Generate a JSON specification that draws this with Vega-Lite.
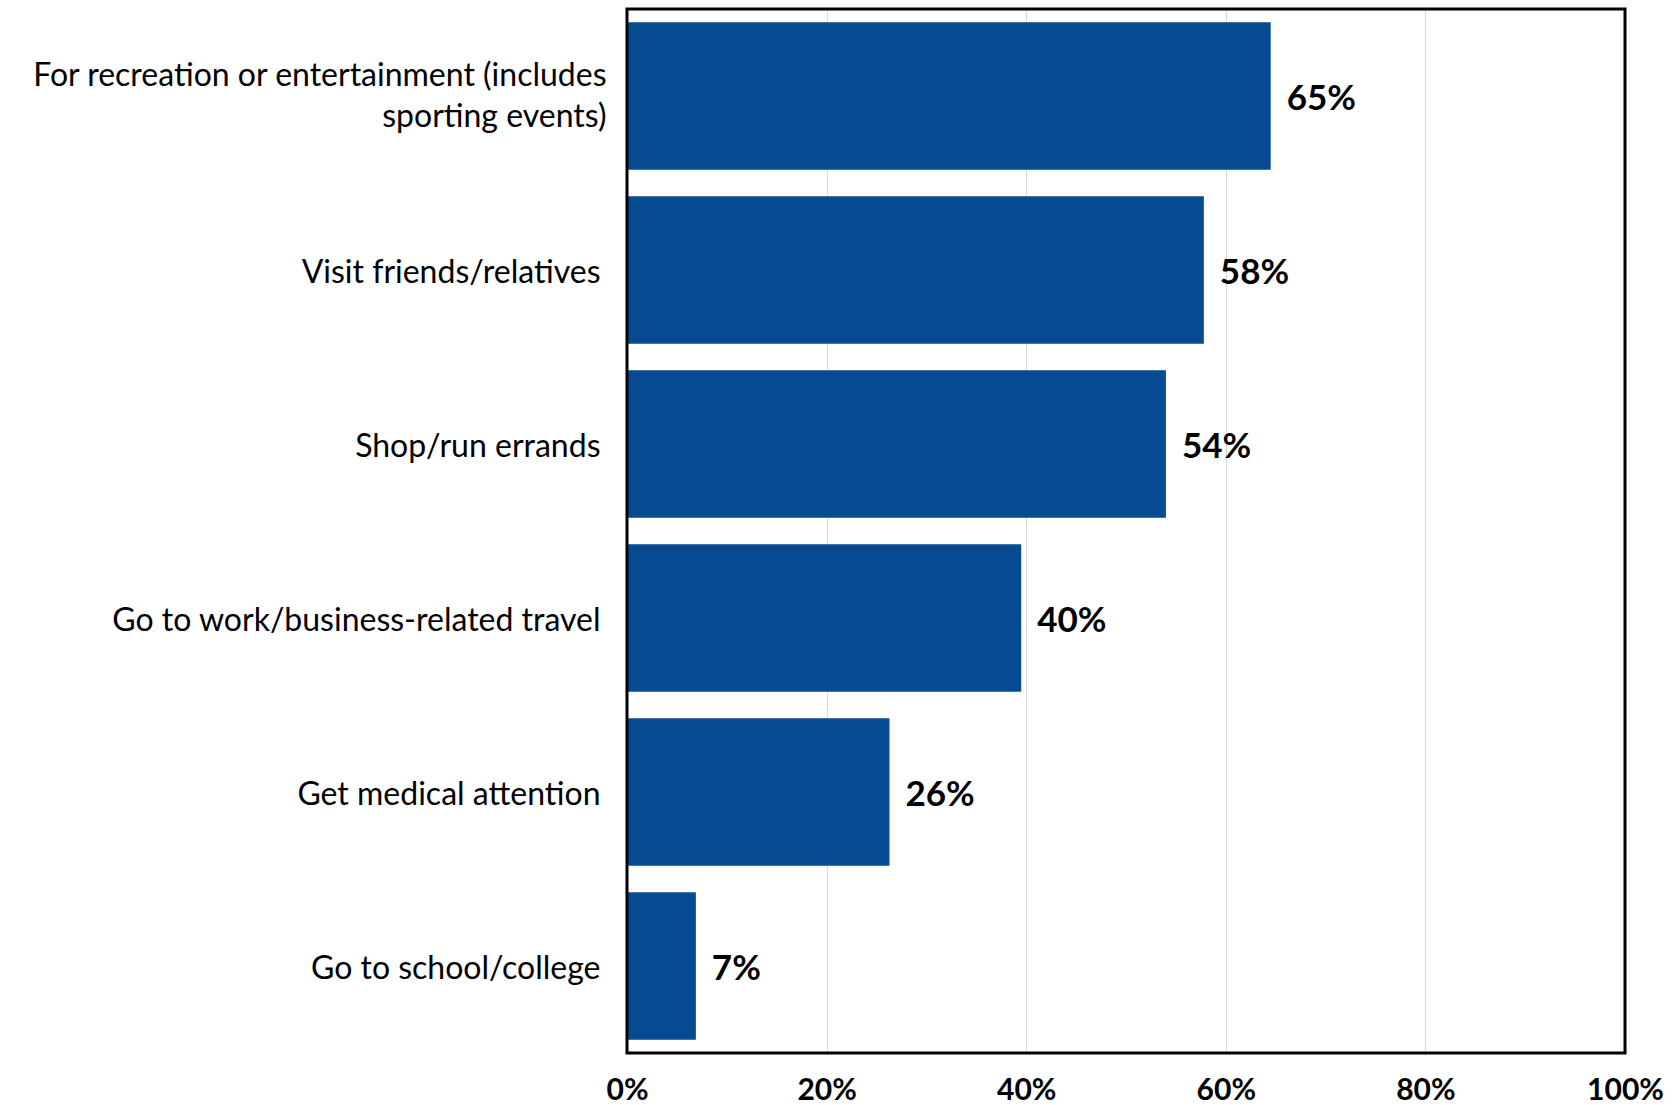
{
  "$schema": "https://vega.github.io/schema/vega-lite/v6.json",
  "width": 998,
  "height": 1044,
  "autosize": {"type": "none"},
  "padding": {"left": 627, "top": 9, "right": 51, "bottom": 52},
  "background": "white",
  "config": {
    "view": {"stroke": null},
    "font": "Lato"
  },
  "datasets": {
    "bars": [
      {"category": "For recreation or entertainment (includes|sporting events)", "value": 64.5, "label": "65%"},
      {"category": "Visit friends/relatives", "value": 57.8, "label": "58%"},
      {"category": "Shop/run errands", "value": 54.0, "label": "54%"},
      {"category": "Go to work/business-related travel", "value": 39.5, "label": "40%"},
      {"category": "Get medical attention", "value": 26.3, "label": "26%"},
      {"category": "Go to school/college", "value": 6.9, "label": "7%"}
    ]
  },
  "data": {"name": "bars"},
  "layer": [
    {
      "mark": {"type": "bar", "color": "#064A91"},
      "encoding": {
        "y": {
          "field": "category",
          "type": "nominal",
          "sort": null,
          "scale": {"paddingInner": 0.153, "paddingOuter": 0.0765},
          "axis": {
            "title": null,
            "domain": false,
            "ticks": false,
            "grid": false,
            "labelFontSize": 32,
            "labelColor": "black",
            "labelPadding": {"condition": {"test": "indexof(datum.value, '|') >= 0", "value": 21}, "value": 27},
            "labelOffset": {"condition": {"test": "indexof(datum.value, '|') >= 0", "value": -20}, "value": 3},
            "labelLimit": 0,
            "labelLineHeight": 41,
            "labelExpr": "split(datum.label, '|')"
          }
        },
        "x": {
          "field": "value",
          "type": "quantitative",
          "scale": {"domain": [0, 100], "nice": false},
          "axis": {
            "title": null,
            "domain": false,
            "ticks": false,
            "values": [0, 20, 40, 60, 80, 100],
            "labelExpr": "datum.value + '%'",
            "labelFontSize": 30,
            "labelFontWeight": "bold",
            "labelColor": "black",
            "labelPadding": 22,
            "labelFlush": false,
            "gridColor": "#D9D9D9",
            "gridWidth": 1
          }
        }
      }
    },
    {
      "mark": {"type": "text", "align": "left", "baseline": "middle", "dx": 16, "dy": 3, "fontSize": 35, "fontWeight": "bold", "color": "black"},
      "encoding": {
        "y": {"field": "category", "type": "nominal", "sort": null},
        "x": {"field": "value", "type": "quantitative"},
        "text": {"field": "label"}
      }
    },
    {
      "data": {"values": [{"frame": "plot"}]},
      "mark": {"type": "rect", "fill": null, "filled": false, "stroke": "black", "strokeWidth": 3},
      "encoding": {
        "x": {"datum": 0, "type": "quantitative"},
        "x2": {"datum": 100}
      }
    }
  ]
}
